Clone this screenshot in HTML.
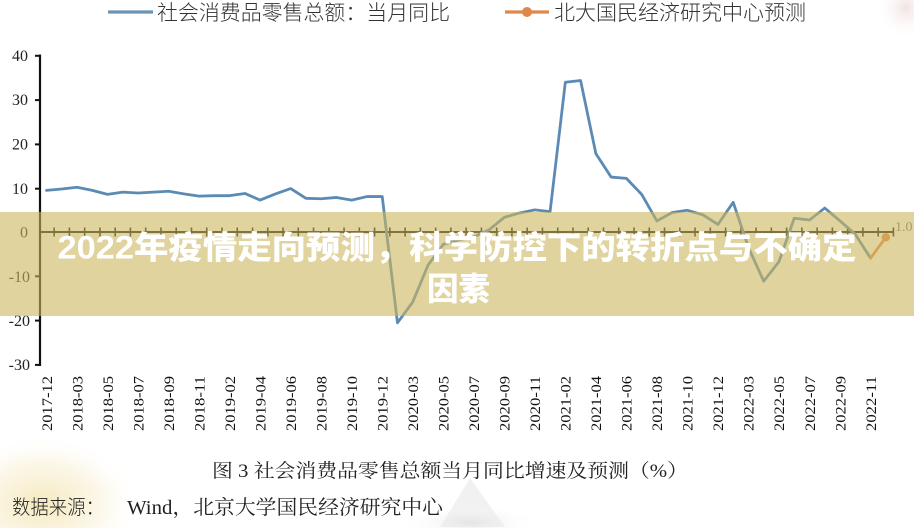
<!DOCTYPE html>
<html>
<head>
<meta charset="utf-8">
<style>
  html,body{margin:0;padding:0;background:#fff;width:914px;height:528px;overflow:hidden;}
  svg{display:block;position:absolute;left:0;top:0;}
</style>
</head>
<body>
<svg width="914" height="528" viewBox="0 0 914 528" xmlns="http://www.w3.org/2000/svg" overflow="hidden">
  <defs>
    <radialGradient id="gy" cx="0.3" cy="0.75" r="0.7">
      <stop offset="0" stop-color="#f3e2a8" stop-opacity="0.75"/>
      <stop offset="0.6" stop-color="#f6ebc6" stop-opacity="0.4"/>
      <stop offset="1" stop-color="#ffffff" stop-opacity="0"/>
    </radialGradient>
    <radialGradient id="gp" cx="0.8" cy="0.2" r="0.8">
      <stop offset="0" stop-color="#f0dcdc" stop-opacity="0.8"/>
      <stop offset="1" stop-color="#ffffff" stop-opacity="0"/>
    </radialGradient>
    <radialGradient id="gg" cx="0.5" cy="0.8" r="0.6">
      <stop offset="0" stop-color="#dcdcdc" stop-opacity="0.6"/>
      <stop offset="1" stop-color="#ffffff" stop-opacity="0"/>
    </radialGradient>
  </defs>

  <rect x="0" y="0" width="914" height="528" fill="#ffffff"/>
  <rect x="0" y="430" width="140" height="98" fill="url(#gy)"/>
  <rect x="874" y="0" width="40" height="40" fill="url(#gp)"/>
  <polygon points="470,478 440,527 505,527" fill="#e6e6e6" opacity="0.55"/>
  <rect x="410" y="500" width="120" height="28" fill="url(#gg)"/>

  <!-- legend -->
  <line x1="108" y1="12" x2="153" y2="12" stroke="#6a93b5" stroke-width="3.2"/>
  <text x="157" y="20" font-family="'Liberation Sans','Noto Sans CJK SC',sans-serif" font-weight="300" font-size="21" fill="#333" textLength="293" lengthAdjust="spacingAndGlyphs">社会消费品零售总额：当月同比</text>
  <line x1="505" y1="12" x2="549" y2="12" stroke="#e0884a" stroke-width="3.2"/>
  <circle cx="527" cy="12" r="5" fill="#e0884a"/>
  <text x="554" y="20" font-family="'Liberation Sans','Noto Sans CJK SC',sans-serif" font-weight="300" font-size="21" fill="#333" textLength="252" lengthAdjust="spacingAndGlyphs">北大国民经济研究中心预测</text>

  <!-- y axis -->
  <line x1="40" y1="54.5" x2="40" y2="366" stroke="#111" stroke-width="2.2"/>
  <g stroke="#111" stroke-width="2">
    <line x1="35" y1="55.8" x2="40" y2="55.8"/>
    <line x1="35" y1="100.1" x2="40" y2="100.1"/>
    <line x1="35" y1="144.4" x2="40" y2="144.4"/>
    <line x1="35" y1="188.7" x2="40" y2="188.7"/>
    <line x1="35" y1="276.3" x2="40" y2="276.3"/>
    <line x1="35" y1="320.6" x2="40" y2="320.6"/>
    <line x1="35" y1="364.9" x2="40" y2="364.9"/>
  </g>
  <g font-family="'Liberation Serif',serif" font-size="16" fill="#222" text-anchor="end">
    <text x="28" y="61">40</text>
    <text x="28" y="105">30</text>
    <text x="28" y="149.5">20</text>
    <text x="28" y="194">10</text>
    <text x="28" y="237.5">0</text>
    <text x="30" y="282">-10</text>
    <text x="30" y="326">-20</text>
    <text x="30" y="370">-30</text>
  </g>

  <!-- x axis -->
  <line x1="40" y1="232" x2="893.5" y2="232" stroke="#111" stroke-width="2"/>
  <g stroke="#111" stroke-width="1.6">
    <line x1="54.13" y1="227.5" x2="54.13" y2="236.5"/><line x1="69.39" y1="227.5" x2="69.39" y2="236.5"/><line x1="84.65" y1="227.5" x2="84.65" y2="236.5"/><line x1="99.91" y1="227.5" x2="99.91" y2="236.5"/><line x1="115.17" y1="227.5" x2="115.17" y2="236.5"/><line x1="130.43" y1="227.5" x2="130.43" y2="236.5"/><line x1="145.69" y1="227.5" x2="145.69" y2="236.5"/><line x1="160.95" y1="227.5" x2="160.95" y2="236.5"/><line x1="176.21" y1="227.5" x2="176.21" y2="236.5"/><line x1="191.47" y1="227.5" x2="191.47" y2="236.5"/><line x1="206.73" y1="227.5" x2="206.73" y2="236.5"/><line x1="221.99" y1="227.5" x2="221.99" y2="236.5"/><line x1="237.25" y1="227.5" x2="237.25" y2="236.5"/><line x1="252.51" y1="227.5" x2="252.51" y2="236.5"/><line x1="267.77" y1="227.5" x2="267.77" y2="236.5"/><line x1="283.03" y1="227.5" x2="283.03" y2="236.5"/><line x1="298.29" y1="227.5" x2="298.29" y2="236.5"/><line x1="313.55" y1="227.5" x2="313.55" y2="236.5"/><line x1="328.81" y1="227.5" x2="328.81" y2="236.5"/><line x1="344.07" y1="227.5" x2="344.07" y2="236.5"/><line x1="359.33" y1="227.5" x2="359.33" y2="236.5"/><line x1="374.59" y1="227.5" x2="374.59" y2="236.5"/><line x1="389.85" y1="227.5" x2="389.85" y2="236.5"/><line x1="405.11" y1="227.5" x2="405.11" y2="236.5"/><line x1="420.37" y1="227.5" x2="420.37" y2="236.5"/><line x1="435.63" y1="227.5" x2="435.63" y2="236.5"/><line x1="450.89" y1="227.5" x2="450.89" y2="236.5"/><line x1="466.15" y1="227.5" x2="466.15" y2="236.5"/><line x1="481.41" y1="227.5" x2="481.41" y2="236.5"/><line x1="496.67" y1="227.5" x2="496.67" y2="236.5"/><line x1="511.93" y1="227.5" x2="511.93" y2="236.5"/><line x1="527.19" y1="227.5" x2="527.19" y2="236.5"/><line x1="542.45" y1="227.5" x2="542.45" y2="236.5"/><line x1="557.71" y1="227.5" x2="557.71" y2="236.5"/><line x1="572.97" y1="227.5" x2="572.97" y2="236.5"/><line x1="588.23" y1="227.5" x2="588.23" y2="236.5"/><line x1="603.49" y1="227.5" x2="603.49" y2="236.5"/><line x1="618.75" y1="227.5" x2="618.75" y2="236.5"/><line x1="634.01" y1="227.5" x2="634.01" y2="236.5"/><line x1="649.27" y1="227.5" x2="649.27" y2="236.5"/><line x1="664.53" y1="227.5" x2="664.53" y2="236.5"/><line x1="679.79" y1="227.5" x2="679.79" y2="236.5"/><line x1="695.05" y1="227.5" x2="695.05" y2="236.5"/><line x1="710.31" y1="227.5" x2="710.31" y2="236.5"/><line x1="725.57" y1="227.5" x2="725.57" y2="236.5"/><line x1="740.83" y1="227.5" x2="740.83" y2="236.5"/><line x1="756.09" y1="227.5" x2="756.09" y2="236.5"/><line x1="771.35" y1="227.5" x2="771.35" y2="236.5"/><line x1="786.61" y1="227.5" x2="786.61" y2="236.5"/><line x1="801.87" y1="227.5" x2="801.87" y2="236.5"/><line x1="817.13" y1="227.5" x2="817.13" y2="236.5"/><line x1="832.39" y1="227.5" x2="832.39" y2="236.5"/><line x1="847.65" y1="227.5" x2="847.65" y2="236.5"/><line x1="862.91" y1="227.5" x2="862.91" y2="236.5"/><line x1="878.17" y1="227.5" x2="878.17" y2="236.5"/><line x1="893.43" y1="227.5" x2="893.43" y2="236.5"/>
  </g>
  <text x="895" y="231" font-family="'Liberation Serif',serif" font-size="14" fill="#777">1.0</text>

  <!-- x labels (rotated) -->
  <g font-family="'Liberation Serif',serif" font-size="15" fill="#111" text-anchor="end">
    <text transform="translate(46.5,376) rotate(-90)" dy="0.35em" textLength="55" lengthAdjust="spacingAndGlyphs">2017-12</text>
    <text transform="translate(77.02,376) rotate(-90)" dy="0.35em" textLength="55" lengthAdjust="spacingAndGlyphs">2018-03</text>
    <text transform="translate(107.54,376) rotate(-90)" dy="0.35em" textLength="55" lengthAdjust="spacingAndGlyphs">2018-05</text>
    <text transform="translate(138.06,376) rotate(-90)" dy="0.35em" textLength="55" lengthAdjust="spacingAndGlyphs">2018-07</text>
    <text transform="translate(168.58,376) rotate(-90)" dy="0.35em" textLength="55" lengthAdjust="spacingAndGlyphs">2018-09</text>
    <text transform="translate(199.1,376) rotate(-90)" dy="0.35em" textLength="55" lengthAdjust="spacingAndGlyphs">2018-11</text>
    <text transform="translate(229.62,376) rotate(-90)" dy="0.35em" textLength="55" lengthAdjust="spacingAndGlyphs">2019-02</text>
    <text transform="translate(260.14,376) rotate(-90)" dy="0.35em" textLength="55" lengthAdjust="spacingAndGlyphs">2019-04</text>
    <text transform="translate(290.66,376) rotate(-90)" dy="0.35em" textLength="55" lengthAdjust="spacingAndGlyphs">2019-06</text>
    <text transform="translate(321.18,376) rotate(-90)" dy="0.35em" textLength="55" lengthAdjust="spacingAndGlyphs">2019-08</text>
    <text transform="translate(351.7,376) rotate(-90)" dy="0.35em" textLength="55" lengthAdjust="spacingAndGlyphs">2019-10</text>
    <text transform="translate(382.22,376) rotate(-90)" dy="0.35em" textLength="55" lengthAdjust="spacingAndGlyphs">2019-12</text>
    <text transform="translate(412.74,376) rotate(-90)" dy="0.35em" textLength="55" lengthAdjust="spacingAndGlyphs">2020-03</text>
    <text transform="translate(443.26,376) rotate(-90)" dy="0.35em" textLength="55" lengthAdjust="spacingAndGlyphs">2020-05</text>
    <text transform="translate(473.78,376) rotate(-90)" dy="0.35em" textLength="55" lengthAdjust="spacingAndGlyphs">2020-07</text>
    <text transform="translate(504.3,376) rotate(-90)" dy="0.35em" textLength="55" lengthAdjust="spacingAndGlyphs">2020-09</text>
    <text transform="translate(534.82,376) rotate(-90)" dy="0.35em" textLength="55" lengthAdjust="spacingAndGlyphs">2020-11</text>
    <text transform="translate(565.34,376) rotate(-90)" dy="0.35em" textLength="55" lengthAdjust="spacingAndGlyphs">2021-02</text>
    <text transform="translate(595.86,376) rotate(-90)" dy="0.35em" textLength="55" lengthAdjust="spacingAndGlyphs">2021-04</text>
    <text transform="translate(626.38,376) rotate(-90)" dy="0.35em" textLength="55" lengthAdjust="spacingAndGlyphs">2021-06</text>
    <text transform="translate(656.9,376) rotate(-90)" dy="0.35em" textLength="55" lengthAdjust="spacingAndGlyphs">2021-08</text>
    <text transform="translate(687.42,376) rotate(-90)" dy="0.35em" textLength="55" lengthAdjust="spacingAndGlyphs">2021-10</text>
    <text transform="translate(717.94,376) rotate(-90)" dy="0.35em" textLength="55" lengthAdjust="spacingAndGlyphs">2021-12</text>
    <text transform="translate(748.46,376) rotate(-90)" dy="0.35em" textLength="55" lengthAdjust="spacingAndGlyphs">2022-03</text>
    <text transform="translate(778.98,376) rotate(-90)" dy="0.35em" textLength="55" lengthAdjust="spacingAndGlyphs">2022-05</text>
    <text transform="translate(809.5,376) rotate(-90)" dy="0.35em" textLength="55" lengthAdjust="spacingAndGlyphs">2022-07</text>
    <text transform="translate(840.02,376) rotate(-90)" dy="0.35em" textLength="55" lengthAdjust="spacingAndGlyphs">2022-09</text>
    <text transform="translate(870.54,376) rotate(-90)" dy="0.35em" textLength="55" lengthAdjust="spacingAndGlyphs">2022-11</text>
  </g>

  <!-- blue series -->
  <polyline fill="none" stroke="#5b8bb5" stroke-width="2.8" stroke-linejoin="round" stroke-linecap="round"
    points="46.5,190.36 61.76,189.03 77.02,187.26 92.28,190.36 107.54,194.35 122.8,192.13 138.06,193.02 153.32,192.13 168.58,191.24 183.84,193.9 199.1,196.12 214.36,195.67 229.62,195.67 244.88,193.46 260.14,200.1 275.4,193.9 290.66,188.59 305.92,198.33 321.18,198.78 336.44,197.45 351.7,200.1 366.96,196.56 382.22,196.56 397.48,322.82 412.74,301.99 428,265.23 443.26,244.4 458.52,239.97 473.78,236.87 489.04,229.79 504.3,217.38 519.56,212.95 534.82,209.85 550.08,211.62 565.34,82.27 580.6,80.49 595.86,153.59 611.12,177.07 626.38,178.4 641.64,194.35 656.9,220.93 672.16,212.51 687.42,210.29 702.68,214.72 717.94,224.47 733.2,202.32 748.46,247.51 763.72,281.17 778.98,261.68 794.24,218.27 809.5,220.04 824.76,208.08 840.02,220.93 855.28,234.22 870.54,258.14"/>
  <!-- orange forecast -->
  <polyline fill="none" stroke="#e0884a" stroke-width="2.8" stroke-linecap="round" points="870.54,258.14 885.8,237.32"/>
  <circle cx="885.8" cy="237.32" r="4.2" fill="#e0884a"/>

  <!-- banner overlay -->
  <rect x="0" y="212" width="914" height="104" fill="rgb(203,182,93)" fill-opacity="0.6"/>
  <text x="457" y="258.5" text-anchor="middle" font-family="'Liberation Sans','Noto Sans CJK SC',sans-serif" font-weight="900" font-size="32" fill="#ffffff" textLength="799" lengthAdjust="spacingAndGlyphs">2022年疫情走向预测，科学防控下的转折点与不确定</text>
  <text x="458.5" y="300" text-anchor="middle" font-family="'Liberation Sans','Noto Sans CJK SC',sans-serif" font-weight="900" font-size="32" fill="#ffffff" textLength="63" lengthAdjust="spacingAndGlyphs">因素</text>

  <!-- caption -->
  <text x="212" y="477" font-family="'Liberation Serif','Noto Serif CJK SC',serif" font-size="19" fill="#222" textLength="476" lengthAdjust="spacingAndGlyphs">图 3  社会消费品零售总额当月同比增速及预测（%）</text>
  <text x="12" y="514" font-family="'Liberation Serif','Noto Sans CJK SC',serif" font-weight="300" font-size="20" fill="#222" textLength="92" lengthAdjust="spacingAndGlyphs">数据来源：</text>
  <text x="127" y="514" font-family="'Liberation Serif','Noto Serif CJK SC',serif" font-size="20" fill="#222" textLength="316" lengthAdjust="spacingAndGlyphs">Wind，北京大学国民经济研究中心</text>
</svg>
</body>
</html>
